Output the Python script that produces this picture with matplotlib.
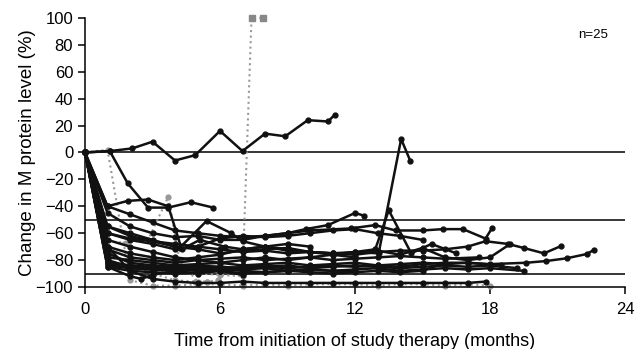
import numpy as np
import matplotlib
matplotlib.use("Agg")
import matplotlib.pyplot as plt

plt.rcParams['font.family'] = ['Liberation Sans', 'DejaVu Sans']

# per-patient M protein change (%), months since start of therapy
black_x = [
    [0, 1.1, 2.1, 3, 4, 4.9, 6, 7, 8, 8.9, 9.9, 10.8, 11.1],
    [0, 1.1, 1.9, 2.8, 3.7, 4.7, 5.7],
    [0, 1, 2, 3, 4, 5, 6, 7, 8, 9, 10, 11, 12, 13.05, 14.05, 14.45],
    [0, 1, 2, 3, 4, 5, 6, 7, 8, 9, 10, 11, 12, 12.9, 13.5, 14.5, 15.4, 16.5],
    [0, 1, 2, 3, 4, 5, 6, 7, 8, 9, 9.8, 10.8, 12, 12.4],
    [0, 1, 2, 3, 4, 5, 6, 7, 8, 9, 10, 11.8, 12.9, 13.8, 15, 15.9, 16.8, 17.8, 18.1],
    [0, 1, 2, 3, 4, 5, 6, 7, 8, 9, 10, 11, 12, 13, 14, 15, 16, 17, 18, 19.6, 20.5, 21.4, 22.3, 22.6],
    [0, 1, 2, 3, 4, 5, 6, 7, 8, 9, 10, 11, 12, 13, 14, 15, 16, 17, 17.8, 18.8, 19.5, 20.4, 21.15],
    [0, 1, 2, 3, 4, 5, 6, 7, 8, 9, 10, 11, 12, 13, 14, 15, 16, 17, 18, 18.9],
    [0, 1, 2, 3, 4, 5, 6, 7, 8, 9, 10, 11, 12, 13, 14, 15, 16, 17, 18, 19.5],
    [0, 1, 2, 3, 4, 5, 6, 7, 8, 9, 10, 11, 12, 13, 14, 15, 16, 17, 18, 19.2],
    [0, 1, 2, 3, 4, 5, 6, 7, 8, 9, 10, 11, 12, 13, 14, 15, 16, 17, 18.5],
    [0, 1, 2, 3, 4, 5, 6, 7, 8, 9, 10, 11, 12, 13, 14, 15, 16, 17.5],
    [0, 1, 2, 3, 4, 5, 6, 7, 8, 9, 10, 11, 12, 13, 14, 15, 16],
    [0, 1, 2, 3, 4, 5, 6, 7, 8, 9, 10, 11, 12],
    [0, 1, 2, 3, 4, 5, 6, 7, 8, 9],
    [0, 1, 2, 3, 4, 5, 6, 7, 8, 9, 10, 11, 12, 13, 14, 15, 16, 17, 17.8],
    [0, 1, 1.9, 2.8, 3.7, 4.3, 5.1, 6.2, 7, 8, 9, 10],
    [0, 1, 2, 3, 4.2, 5.4, 6.5, 7, 8, 9, 10, 11, 12],
    [0, 1, 2, 2.5, 3, 4, 5, 6, 7],
    [0, 1, 2, 3, 4, 5, 6, 7, 8, 9, 10, 11, 12, 13, 14, 15],
]
black_y = [
    [0, 1, 3, 8, -6, -2, 16, 1, 14, 12, 24, 23, 28],
    [0, 1, -23, -41, -41, -37, -41],
    [0, -60, -65, -68, -72, -70, -72, -74, -73, -75, -74, -75, -74, -75, 10, -6],
    [0, -72, -78, -80, -82, -80, -82, -80, -78, -80, -78, -76, -74, -72, -43, -75, -68, -75],
    [0, -40, -46, -52, -58, -60, -62, -63, -62, -60, -57, -54, -45, -47],
    [0, -45, -55, -60, -63, -62, -65, -65, -62, -60, -58, -56.5, -54, -58, -58, -57, -57, -64, -56],
    [0, -80, -85, -86, -87, -86, -87, -85, -84, -86, -85, -84, -85, -84, -85, -83, -82, -82, -83, -82, -80.7, -78.7, -75.5, -72.6],
    [0, -55, -62, -66, -70, -72, -75, -73, -72, -71, -74, -75, -76, -74, -73, -73, -72, -70, -66, -68, -71, -75, -69.6],
    [0, -70, -75, -78, -80, -78, -76, -72, -70, -72, -74, -75, -75, -73, -76, -71, -78, -80, -78, -68],
    [0, -84, -86, -87, -88, -87, -88, -87, -86, -88, -87, -88, -87, -86, -88, -87, -86, -87, -86, -88],
    [0, -82, -84, -85, -86, -84, -85, -86, -85, -84, -86, -85, -84, -85, -86, -85, -84, -85, -84, -86],
    [0, -78, -80, -82, -84, -83, -82, -84, -83, -82, -84, -83, -82, -84, -83, -82, -83, -82, -84],
    [0, -65, -70, -74, -78, -80, -79, -78, -80, -79, -78, -80, -79, -78, -77, -78, -79, -78],
    [0, -85, -88, -89, -90, -89, -88, -90, -89, -88, -89, -90, -89, -88, -89, -88, -82],
    [0, -83, -86, -87, -86, -88, -87, -88, -89, -88, -87, -88, -88],
    [0, -75, -82, -84, -85, -86, -85, -86, -85, -86],
    [0, -70, -88, -94, -96, -97, -97, -96, -97, -97, -97, -97, -97, -97, -97, -97, -97, -97, -96],
    [0, -40, -36, -35, -40, -72, -65, -70, -72, -70, -68, -70],
    [0, -55, -60, -65, -71, -51, -60, -66, -70, -73, -74, -76, -78],
    [0, -85, -92, -94, -91, -88, -90, -88, -91],
    [0, -60, -64, -66, -68, -70, -64, -62, -63, -62, -60, -58, -57, -60, -62, -65],
]

# patients plotted in gray dotted lines
gray_x = [
    [0, 1, 2, 3, 4, 5, 6, 7, 7.4, 7.9],
    [0, 1, 2, 3, 4, 5, 6, 7, 8, 9, 10, 11, 12, 13, 14, 15, 16, 17, 18],
    [0, 0.9, 1.8, 2.8, 3.7, 4.2, 5, 5.4, 5.9],
    [0, 1, 2, 3, 4, 4.9, 5.4],
]
gray_y = [
    [0, -72, -86, -88, -89, -90, -91, -92, 100, 100],
    [0, 2, -95, -99, -99, -98, -98, -99, -98, -99, -98, -98, -98, -99, -98, -98, -99, -98, -99],
    [0, -66, -67, -65, -33, -80, -96, -96, -95],
    [0, -75, -82, -90, -95, -96, -96],
]

fig = plt.figure(figsize=(6.44, 3.49), dpi=100)
ax = fig.add_axes([0.132, 0.1777, 0.8385, 0.771])

for yv in [0, -50, -90]:
    ax.plot([0, 24], [yv, yv], color='black', lw=1.1, zorder=1)

for xs, ys in zip(gray_x, gray_y):
    ax.plot(xs, ys, color='#999999', ls=':', lw=1.5, marker='o', ms=3.5, zorder=2, clip_on=False)
# the two square points at +100
ax.plot(gray_x[0][-2:], gray_y[0][-2:], ls='none', marker='s', ms=5, color='#888888', zorder=3, clip_on=False)

for xs, ys in zip(black_x, black_y):
    ax.plot(xs, ys, color='#111111', lw=1.8, marker='o', ms=3.5, zorder=4, clip_on=False)

ax.set_xlim(0, 24)
ax.set_ylim(-100, 100)
ax.set_xticks([0, 6, 12, 18, 24])
ax.set_yticks(np.arange(-100, 101, 20))
ax.spines['top'].set_visible(False)
ax.spines['right'].set_visible(False)
ax.spines['left'].set_linewidth(1.1)
ax.spines['bottom'].set_linewidth(1.1)
ax.tick_params(direction='out', length=5, width=1.1, labelsize=12)
ax.tick_params(axis='x', pad=6)
ax.set_xlabel('Time from initiation of study therapy (months)', fontsize=13, labelpad=11)
ax.set_ylabel('Change in M protein level (%)', fontsize=13.5, labelpad=0)
ax.text(0.968, 0.925, 'n=25', transform=ax.transAxes, fontsize=9.5, ha='right')

fig.savefig('out.png', dpi=100)
